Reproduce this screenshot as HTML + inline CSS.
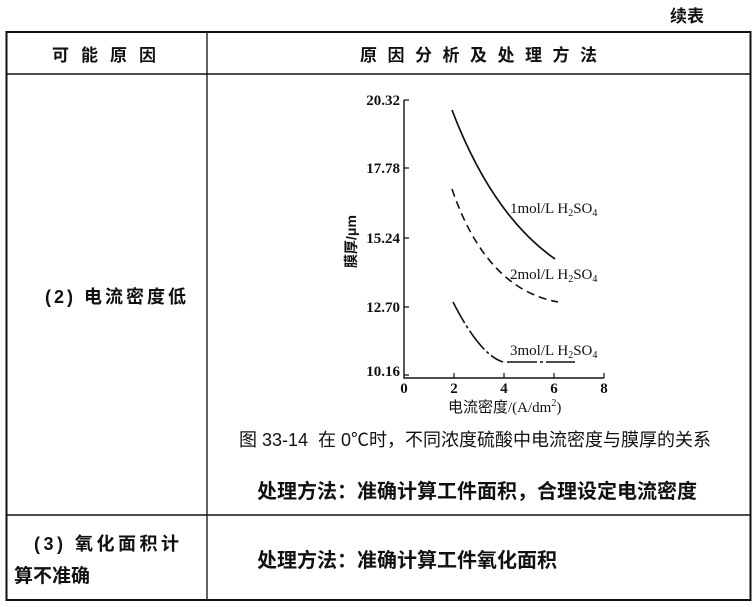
<!DOCTYPE html>
<html><head><meta charset="utf-8"><style>
body{margin:0;background:#fff;width:754px;height:607px;overflow:hidden;position:relative;font-family:"Liberation Serif","Noto Serif CJK SC",serif;color:#111}
.t{position:absolute;white-space:nowrap}
.b{font-family:"Liberation Sans","Noto Sans CJK SC",sans-serif;font-weight:bold}
</style></head><body>
<div class="t b" style="left:670px;top:2px;font-size:17px">续表</div>
<svg width="754" height="607" style="position:absolute;left:0;top:0">
<g stroke="#111" fill="none">
<rect x="6.5" y="32" width="744" height="568" stroke-width="2"/>
<line x1="6" y1="74" x2="751" y2="74" stroke-width="1.5"/>
<line x1="207" y1="32" x2="207" y2="600" stroke-width="1.3"/>
<line x1="6" y1="515" x2="751" y2="515" stroke-width="1.5"/>
<path d="M404 100 V378 H604" stroke-width="1.4"/>
<path d="M404 100h5M404 168h5M404 238h5M404 307h5M404 375h5M454 378v-5M504 378v-5M554 378v-5M604 378v-5" stroke-width="1.2"/>
<path d="M452 110 Q492 215 555 259" stroke-width="1.7"/>
<path d="M452 189 Q486 289 558 302" stroke-width="1.6" stroke-dasharray="8,5"/>
<path d="M453 302 Q480 355 503 362" stroke-width="1.6" stroke-dasharray="24,3,3,3"/>
<path d="M507 362 H575" stroke-width="1.6" stroke-dasharray="30,3,3,3"/>
</g>
<g font-family="Liberation Serif,serif" font-size="15" fill="#111" font-weight="bold">
<text x="400" y="105" text-anchor="end">20.32</text>
<text x="400" y="173" text-anchor="end">17.78</text>
<text x="400" y="243" text-anchor="end">15.24</text>
<text x="400" y="312" text-anchor="end">12.70</text>
<text x="400" y="376" text-anchor="end">10.16</text>
<text x="404" y="393" text-anchor="middle">0</text>
<text x="454" y="393" text-anchor="middle">2</text>
<text x="504" y="393" text-anchor="middle">4</text>
<text x="554" y="393" text-anchor="middle">6</text>
<text x="604" y="393" text-anchor="middle">8</text>
</g>
<g font-family="Liberation Serif,serif" font-size="15" fill="#111">
<text x="510" y="213">1mol/L H<tspan font-size="10" dy="3">2</tspan><tspan dy="-3">SO</tspan><tspan font-size="10" dy="3">4</tspan></text>
<text x="510" y="279">2mol/L H<tspan font-size="10" dy="3">2</tspan><tspan dy="-3">SO</tspan><tspan font-size="10" dy="3">4</tspan></text>
<text x="510" y="355">3mol/L H<tspan font-size="10" dy="3">2</tspan><tspan dy="-3">SO</tspan><tspan font-size="10" dy="3">4</tspan></text>
<text x="448" y="412" font-size="15" font-family="Liberation Serif,Noto Sans CJK SC,serif">电流密度/(A/dm<tspan font-size="10" dy="-6">2</tspan><tspan dy="6">)</tspan></text>
<text transform="translate(356,268) rotate(-90)" font-size="14" font-family="Liberation Sans,Noto Sans CJK SC,sans-serif" font-weight="bold">膜厚/μm</text>
</g>
</svg>
<div class="t b" style="left:52px;top:41px;font-size:17px;letter-spacing:12px">可能原因</div>
<div class="t b" style="left:360px;top:41px;font-size:17px;letter-spacing:10.5px">原因分析及处理方法</div>
<div class="t b" style="left:45px;top:283px;font-size:18px;letter-spacing:3px">(2) 电流密度低</div>
<div class="t" style="left:239px;top:426px;font-size:18px;font-family:'Liberation Sans','Noto Sans CJK SC',sans-serif">图 33-14 &nbsp;在 0℃时，不同浓度硫酸中电流密度与膜厚的关系</div>
<div class="t b" style="left:257px;top:475px;font-size:20px">处理方法：准确计算工件面积，合理设定电流密度</div>
<div class="t b" style="left:34px;top:530px;font-size:18px;letter-spacing:3.5px">(3) 氧化面积计</div>
<div class="t b" style="left:14px;top:561px;font-size:19px">算不准确</div>
<div class="t b" style="left:257px;top:544px;font-size:20px">处理方法：准确计算工件氧化面积</div>
</body></html>
